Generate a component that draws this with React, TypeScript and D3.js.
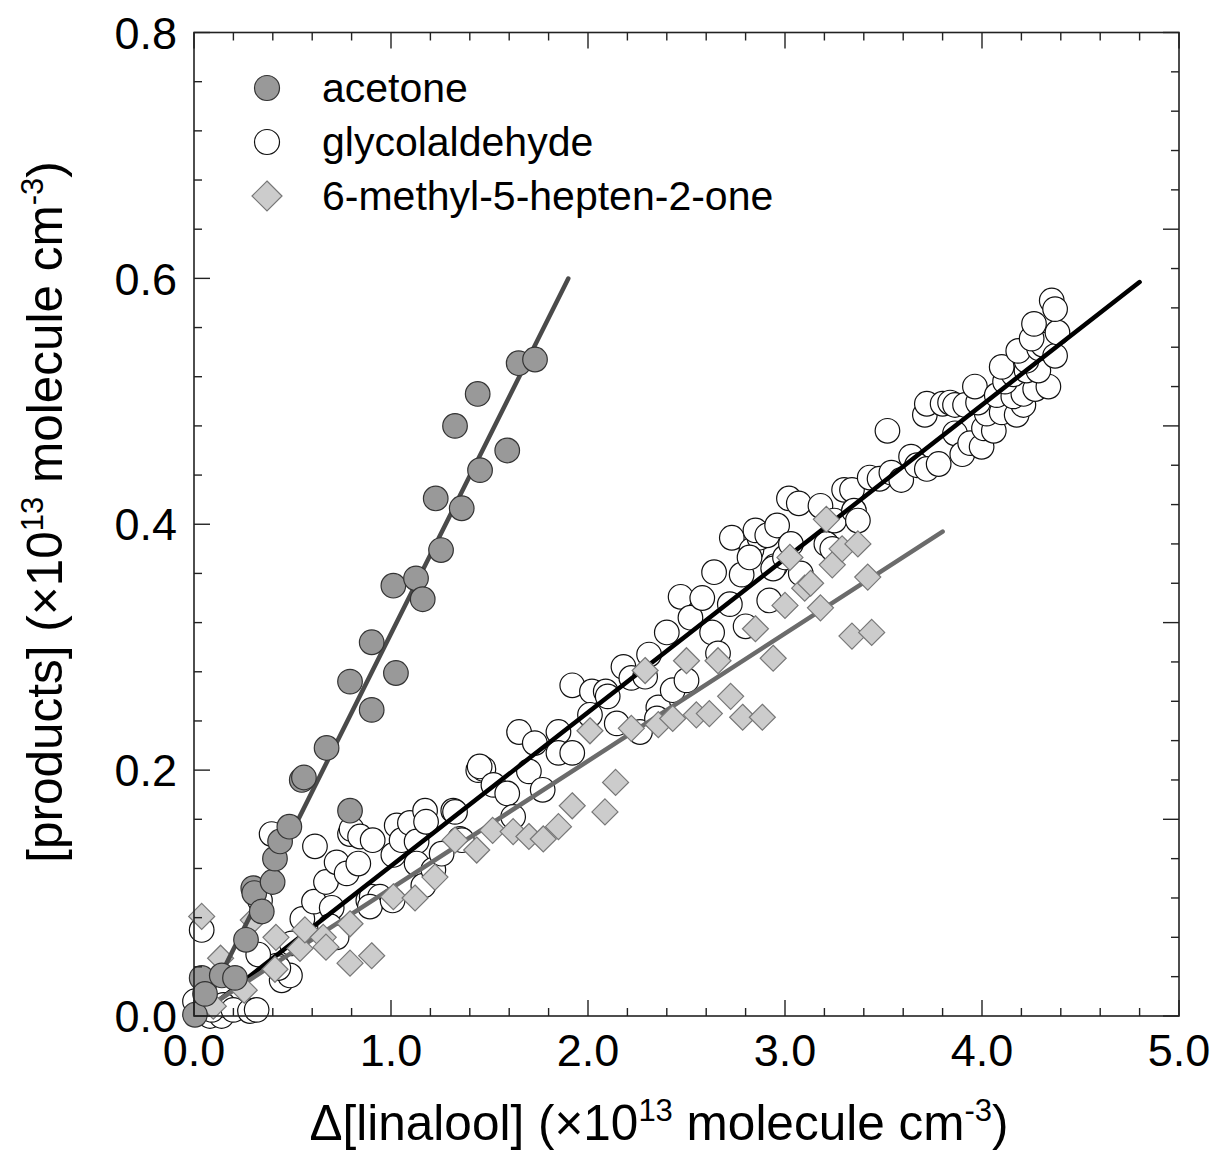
import * as d3 from 'd3';

// measured values, x = Δ[linalool], y = [product] (both ×10^13 molecule cm^-3)
const acetone: [number, number][] = [
  [0.005, 0.001], [0.039, 0.031], [0.056, 0.018], [0.141, 0.033], [0.208, 0.031],
  [0.264, 0.062], [0.301, 0.104], [0.306, 0.1], [0.344, 0.085], [0.399, 0.109],
  [0.411, 0.128], [0.437, 0.142], [0.484, 0.154], [0.547, 0.192], [0.558, 0.194],
  [0.673, 0.218], [0.792, 0.167], [0.792, 0.272], [0.902, 0.249], [0.902, 0.304],
  [1.025, 0.279], [1.012, 0.35], [1.127, 0.356], [1.161, 0.339], [1.254, 0.379],
  [1.227, 0.421], [1.359, 0.413], [1.452, 0.444], [1.325, 0.48], [1.44, 0.506],
  [1.59, 0.46], [1.648, 0.531], [1.731, 0.534],
];

const glycolaldehyde: [number, number][] = [
  [0.039, 0.07], [0.005, 0.012], [0.081, 0.0], [0.14, 0.0], [0.149, 0.009], [0.09, 0.005],
  [0.2, 0.005], [0.284, 0.004], [0.318, 0.005], [0.445, 0.029], [0.487, 0.033], [0.42, 0.041],
  [0.326, 0.05], [0.496, 0.059], [0.55, 0.079], [0.335, 0.094], [0.394, 0.148], [0.428, 0.039],
  [0.609, 0.093], [0.699, 0.088], [0.69, 0.073], [0.724, 0.064], [0.67, 0.109], [0.614, 0.138],
  [0.724, 0.125], [0.775, 0.116], [0.834, 0.124], [0.792, 0.148], [0.8, 0.152], [0.843, 0.146],
  [0.907, 0.143], [0.885, 0.094], [0.902, 0.097], [0.944, 0.097], [0.893, 0.089], [1.008, 0.094],
  [1.012, 0.131], [1.029, 0.155], [1.054, 0.143], [1.096, 0.157], [1.13, 0.142], [1.13, 0.124],
  [1.164, 0.106], [1.173, 0.167], [1.178, 0.158], [1.215, 0.119], [1.257, 0.132], [1.316, 0.167],
  [1.35, 0.144], [1.325, 0.166], [1.36, 0.143], [1.443, 0.2], [1.469, 0.201], [1.45, 0.203],
  [1.52, 0.188], [1.59, 0.181], [1.62, 0.162], [1.7, 0.199], [1.77, 0.184], [1.65, 0.231],
  [1.73, 0.222], [1.85, 0.231], [1.85, 0.214], [1.92, 0.214], [1.92, 0.269], [2.02, 0.264],
  [2.09, 0.264], [2.1, 0.26], [2.01, 0.245], [2.146, 0.238], [2.18, 0.284], [2.22, 0.275],
  [2.29, 0.276], [2.31, 0.294], [2.264, 0.231], [2.357, 0.251], [2.43, 0.265], [2.5, 0.273],
  [2.4, 0.312], [2.47, 0.341], [2.52, 0.324], [2.58, 0.34], [2.63, 0.312], [2.66, 0.295],
  [2.35, 0.242], [2.64, 0.361], [2.73, 0.389], [2.72, 0.335], [2.78, 0.359], [2.83, 0.379],
  [2.87, 0.389], [2.8, 0.317], [2.92, 0.338], [2.95, 0.366], [2.82, 0.373], [2.85, 0.395],
  [2.91, 0.391], [2.96, 0.399], [2.94, 0.364], [3.0, 0.373], [3.03, 0.384], [3.02, 0.421],
  [3.07, 0.417], [3.08, 0.36], [3.18, 0.415], [3.21, 0.384], [3.25, 0.403], [3.3, 0.428],
  [3.34, 0.428], [3.35, 0.411], [3.37, 0.403], [3.24, 0.38], [3.43, 0.438], [3.48, 0.437],
  [3.54, 0.442], [3.59, 0.436], [3.52, 0.476], [3.64, 0.455], [3.67, 0.448], [3.72, 0.445],
  [3.78, 0.449], [3.71, 0.489], [3.72, 0.498], [3.8, 0.498], [3.838, 0.499], [3.863, 0.497],
  [3.914, 0.497], [3.863, 0.474], [3.9, 0.457], [3.94, 0.466], [3.998, 0.463], [4.01, 0.478],
  [4.06, 0.476], [4.024, 0.49], [4.1, 0.491], [4.176, 0.489], [4.21, 0.497], [3.98, 0.499],
  [3.964, 0.512], [4.075, 0.505], [4.159, 0.504], [4.21, 0.506], [4.27, 0.51], [4.337, 0.512],
  [4.117, 0.516], [4.16, 0.522], [4.226, 0.525], [4.286, 0.525], [4.226, 0.533], [4.1, 0.528],
  [4.184, 0.541], [4.29, 0.543], [4.31, 0.546], [4.371, 0.537], [4.252, 0.551], [4.383, 0.556],
  [4.264, 0.563], [4.354, 0.582], [4.371, 0.575],
];

const methylheptenone: [number, number][] = [
  [0.039, 0.081], [0.098, 0.008], [0.135, 0.047], [0.255, 0.021], [0.301, 0.078], [0.411, 0.038],
  [0.416, 0.064], [0.538, 0.055], [0.563, 0.07], [0.656, 0.064], [0.67, 0.056], [0.792, 0.075],
  [0.792, 0.043], [0.902, 0.049], [1.012, 0.097], [1.122, 0.096], [1.223, 0.113], [1.325, 0.143],
  [1.435, 0.135], [1.516, 0.151], [1.62, 0.15], [1.7, 0.146], [1.773, 0.144], [1.85, 0.154],
  [1.92, 0.171], [2.086, 0.166], [2.14, 0.19], [2.01, 0.232], [2.22, 0.234], [2.29, 0.281],
  [2.357, 0.237], [2.43, 0.242], [2.5, 0.289], [2.55, 0.245], [2.616, 0.246], [2.66, 0.289],
  [2.724, 0.26], [2.785, 0.243], [2.885, 0.243], [2.94, 0.291], [2.85, 0.315], [3.0, 0.334],
  [3.025, 0.373], [3.1, 0.348], [3.13, 0.352], [3.18, 0.332], [3.21, 0.404], [3.24, 0.367],
  [3.29, 0.38], [3.37, 0.384], [3.42, 0.357], [3.34, 0.309], [3.44, 0.312],
];

// linear fits: [x start, x end], slope, intercept
const acetoneFit = { range: [0.08, 1.9], slope: 0.321, intercept: -0.01 };
const glycolFit = { range: [0.1, 4.8], slope: 0.125, intercept: -0.003 };
const mhoFit = { range: [0.1, 3.8], slope: 0.1037, intercept: 0.0 };

const legendLabels = ['acetone', 'glycolaldehyde', '6-methyl-5-hepten-2-one'];

const WIDTH = 1214;
const HEIGHT = 1160;
const FRAME = { left: 194, right: 1179, top: 32.5, bottom: 1016 };
const FONT = '"Liberation Sans", Arial, Helvetica, sans-serif';

const xScale = d3.scaleLinear().domain([0, 5]).range([FRAME.left, FRAME.right]);
const yScale = d3.scaleLinear().domain([0, 0.8]).range([FRAME.bottom, FRAME.top]);
// the right-hand axis carries the same tick pattern as the x axis
const yRightScale = d3.scaleLinear().domain([0, 5]).range([FRAME.bottom, FRAME.top]);

const fmt = d3.format('.1f');
const MAJOR = 16;
const MINOR = 8;
const R = 12.3;
const D = 13;

const diamond = (cx: number, cy: number, h: number) =>
  `M${cx},${cy - h}L${cx + h},${cy}L${cx},${cy + h}L${cx - h},${cy}Z`;

const fitLine = (f: { range: number[]; slope: number; intercept: number }) =>
  d3.line<number>()
    .x(d => xScale(d))
    .y(d => yScale(f.slope * d + f.intercept))(f.range) || '';

export default function App() {
  const xMinor = d3.range(0, 5.0001, 0.2);
  const xMajor = d3.range(0, 5.0001, 1);
  const yMinor = d3.range(0, 0.8001, 0.04);
  const yMajor = d3.range(0, 0.8001, 0.2);

  const tickStroke = '#222';

  return (
    <div style={{ position: 'absolute', left: 0, top: 0 }}>
      <svg width={WIDTH} height={HEIGHT} style={{ display: 'block', background: '#fff' }}>
        {/* glycolaldehyde */}
        {glycolaldehyde.map(([x, y], i) => (
          <circle key={`g${i}`} cx={xScale(x)} cy={yScale(y)} r={R}
            fill="#fff" stroke="#111" strokeWidth={1.2} />
        ))}
        <path d={fitLine(glycolFit)} stroke="#000" strokeWidth={4.5} fill="none" strokeLinecap="round" />

        {/* 6-methyl-5-hepten-2-one */}
        <path d={fitLine(mhoFit)} stroke="#6b6b6b" strokeWidth={4.5} fill="none" strokeLinecap="round" />
        {methylheptenone.map(([x, y], i) => (
          <path key={`m${i}`} d={diamond(xScale(x), yScale(y), D)}
            fill="#cccccc" stroke="#777" strokeWidth={1.2} />
        ))}

        {/* acetone */}
        <path d={fitLine(acetoneFit)} stroke="#4a4a4a" strokeWidth={4.5} fill="none" strokeLinecap="round" />
        {acetone.map(([x, y], i) => (
          <circle key={`a${i}`} cx={xScale(x)} cy={yScale(y)} r={R}
            fill="#999999" stroke="#333" strokeWidth={1.2} />
        ))}

        {/* frame */}
        <rect x={FRAME.left} y={FRAME.top} width={FRAME.right - FRAME.left}
          height={FRAME.bottom - FRAME.top} fill="none" stroke={tickStroke} strokeWidth={1.6} />

        {/* bottom & top ticks */}
        {xMinor.map((v, i) => {
          const isMajor = Math.abs(v - Math.round(v)) < 1e-6;
          const len = isMajor ? MAJOR : MINOR;
          return (
            <g key={`xt${i}`} stroke={tickStroke} strokeWidth={1.4}>
              <line x1={xScale(v)} x2={xScale(v)} y1={FRAME.bottom} y2={FRAME.bottom - len} />
              <line x1={xScale(v)} x2={xScale(v)} y1={FRAME.top} y2={FRAME.top + len} />
            </g>
          );
        })}
        {/* left ticks */}
        {yMinor.map((v, i) => {
          const isMajor = Math.abs(v / 0.2 - Math.round(v / 0.2)) < 1e-6;
          const len = isMajor ? MAJOR : MINOR;
          return (
            <line key={`yt${i}`} x1={FRAME.left} x2={FRAME.left + len} y1={yScale(v)} y2={yScale(v)}
              stroke={tickStroke} strokeWidth={1.4} />
          );
        })}
        {/* right ticks */}
        {xMinor.map((v, i) => {
          const isMajor = Math.abs(v - Math.round(v)) < 1e-6;
          const len = isMajor ? MAJOR : MINOR;
          return (
            <line key={`rt${i}`} x1={FRAME.right} x2={FRAME.right - len}
              y1={yRightScale(v)} y2={yRightScale(v)} stroke={tickStroke} strokeWidth={1.4} />
          );
        })}

        {/* tick labels */}
        <g fontFamily={FONT} fontSize={45} fill="#000">
          {xMajor.map((v, i) => (
            <text key={`xl${i}`} x={xScale(v)} y={1066} textAnchor="middle">{fmt(v)}</text>
          ))}
          {yMajor.map((v, i) => (
            <text key={`yl${i}`} x={177} y={yScale(v)} dy="0.36em" textAnchor="end">{fmt(v)}</text>
          ))}
        </g>

        {/* axis titles */}
        <text x={659} y={1140} textAnchor="middle" fontFamily={FONT} fontSize={49.5} fill="#000">
          Δ[linalool] (×10<tspan fontSize={31} dy={-19}>13</tspan>
          <tspan dy={19}> molecule cm</tspan>
          <tspan fontSize={31} dy={-19}>-3</tspan>
          <tspan dy={19}>)</tspan>
        </text>
        <text transform="translate(62,512) rotate(-90)" textAnchor="middle"
          fontFamily={FONT} fontSize={49.5} fill="#000">
          [products] (×10<tspan fontSize={31} dy={-19}>13</tspan>
          <tspan dy={19}> molecule cm</tspan>
          <tspan fontSize={31} dy={-19}>-3</tspan>
          <tspan dy={19}>)</tspan>
        </text>

        {/* legend */}
        <g fontFamily={FONT} fontSize={41} fill="#000">
          <circle cx={267} cy={88} r={12.5} fill="#999999" stroke="#333" strokeWidth={1.2} />
          <circle cx={267} cy={142} r={12.5} fill="#fff" stroke="#111" strokeWidth={1.2} />
          <path d={diamond(267, 196, 15)} fill="#cccccc" stroke="#777" strokeWidth={1.2} />
          {legendLabels.map((t, i) => (
            <text key={`lg${i}`} x={322} y={102 + i * 54}>{t}</text>
          ))}
        </g>
      </svg>
    </div>
  );
}
